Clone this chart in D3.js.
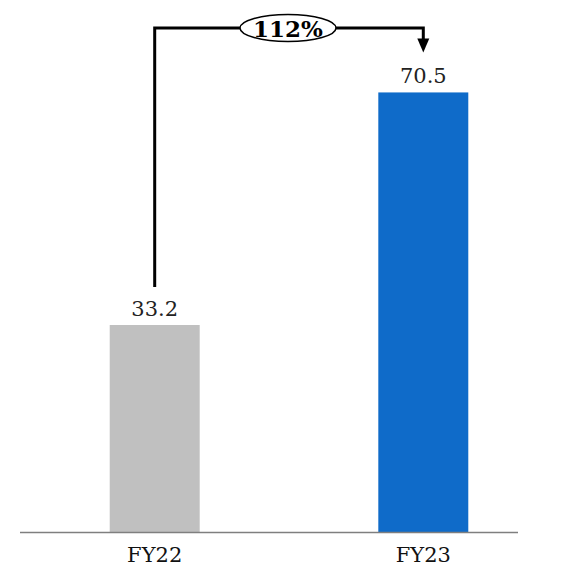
<!DOCTYPE html>
<html>
<head>
<meta charset="utf-8">
<script src="https://cdn.jsdelivr.net/npm/d3@7"></script>
<style>
  body { margin: 0; background: #fff; }
  svg text { font-family: "DejaVu Serif", "Liberation Serif", serif; }
</style>
</head>
<body>
<div id="chart"></div>
<script>
// dados
const categorias = ["FY22", "FY23"];
const valores = [33.2, 70.5];
const rotulos = ["33.2", "70.5"];
const crescimento = "112%";

const width = 563, height = 569;
const baseY = 532;

const svg = d3.select("#chart")
  .append("svg")
    .attr("width", width)
    .attr("height", height);

// Escalas
const x = d3.scaleBand()
  .domain(categorias)
  .range([20, 558])
  .paddingInner(0.665)
  .paddingOuter(0.334);

const y = d3.scaleLinear()
  .domain([0, 80])
  .range([baseY, baseY - 80 * 6.235]);

const cores = d3.scaleOrdinal()
  .domain(categorias)
  .range(["#c0c0c0", "#0f6bc9"]);

// Barras
svg.selectAll(".bar")
  .data(valores)
  .join("rect")
    .attr("class", "bar")
    .attr("x", (d, i) => x(categorias[i]))
    .attr("y", d => y(d))
    .attr("width", x.bandwidth())
    .attr("height", d => baseY - y(d))
    .attr("fill", (d, i) => cores(categorias[i]));

// Rótulos de valor
svg.selectAll(".valor")
  .data(valores)
  .join("text")
    .attr("class", "valor")
    .attr("x", (d, i) => x(categorias[i]) + x.bandwidth() / 2)
    .attr("y", d => y(d) - 9)
    .attr("text-anchor", "middle")
    .style("font-size", "21px")
    .style("fill", "#222")
    .text((d, i) => rotulos[i]);

// Eixo
const eixo = svg.append("g")
  .attr("transform", `translate(0,${baseY})`)
  .call(d3.axisBottom(x).tickSize(0).tickPadding(15));
eixo.select(".domain").remove();
eixo.selectAll("text")
  .style("font-size", "21px")
  .style("fill", "#111")
  .attr("font-family", null);

svg.append("line")
  .attr("x1", 20).attr("x2", 518)
  .attr("y1", baseY + 0.5).attr("y2", baseY + 0.5)
  .attr("stroke", "#7f7f7f")
  .attr("stroke-width", 1.5);

// Conector com seta
const x1 = x(categorias[0]) + x.bandwidth() / 2;
const x2 = x(categorias[1]) + x.bandwidth() / 2;
const topoY = 28;
const inicioY = y(valores[0]) - 38;
const pontaY = y(valores[1]) - 40;

svg.append("path")
  .attr("d", `M${x1},${inicioY}V${topoY}H${x2}V${pontaY - 13}`)
  .attr("fill", "none")
  .attr("stroke", "#000")
  .attr("stroke-width", 3);

svg.append("path")
  .attr("d", `M${x2 - 6},${pontaY - 14}L${x2 + 6},${pontaY - 14}L${x2},${pontaY}Z`)
  .attr("fill", "#000");

const cx = 288;
svg.append("ellipse")
  .attr("cx", cx).attr("cy", topoY)
  .attr("rx", 48).attr("ry", 13.5)
  .attr("fill", "#fff")
  .attr("stroke", "#000")
  .attr("stroke-width", 1.5);

svg.append("text")
  .attr("x", cx)
  .attr("y", topoY + 8.5)
  .attr("text-anchor", "middle")
  .style("font-size", "23px")
  .style("font-weight", "bold")
  .text(crescimento);
</script>
</body>
</html>
